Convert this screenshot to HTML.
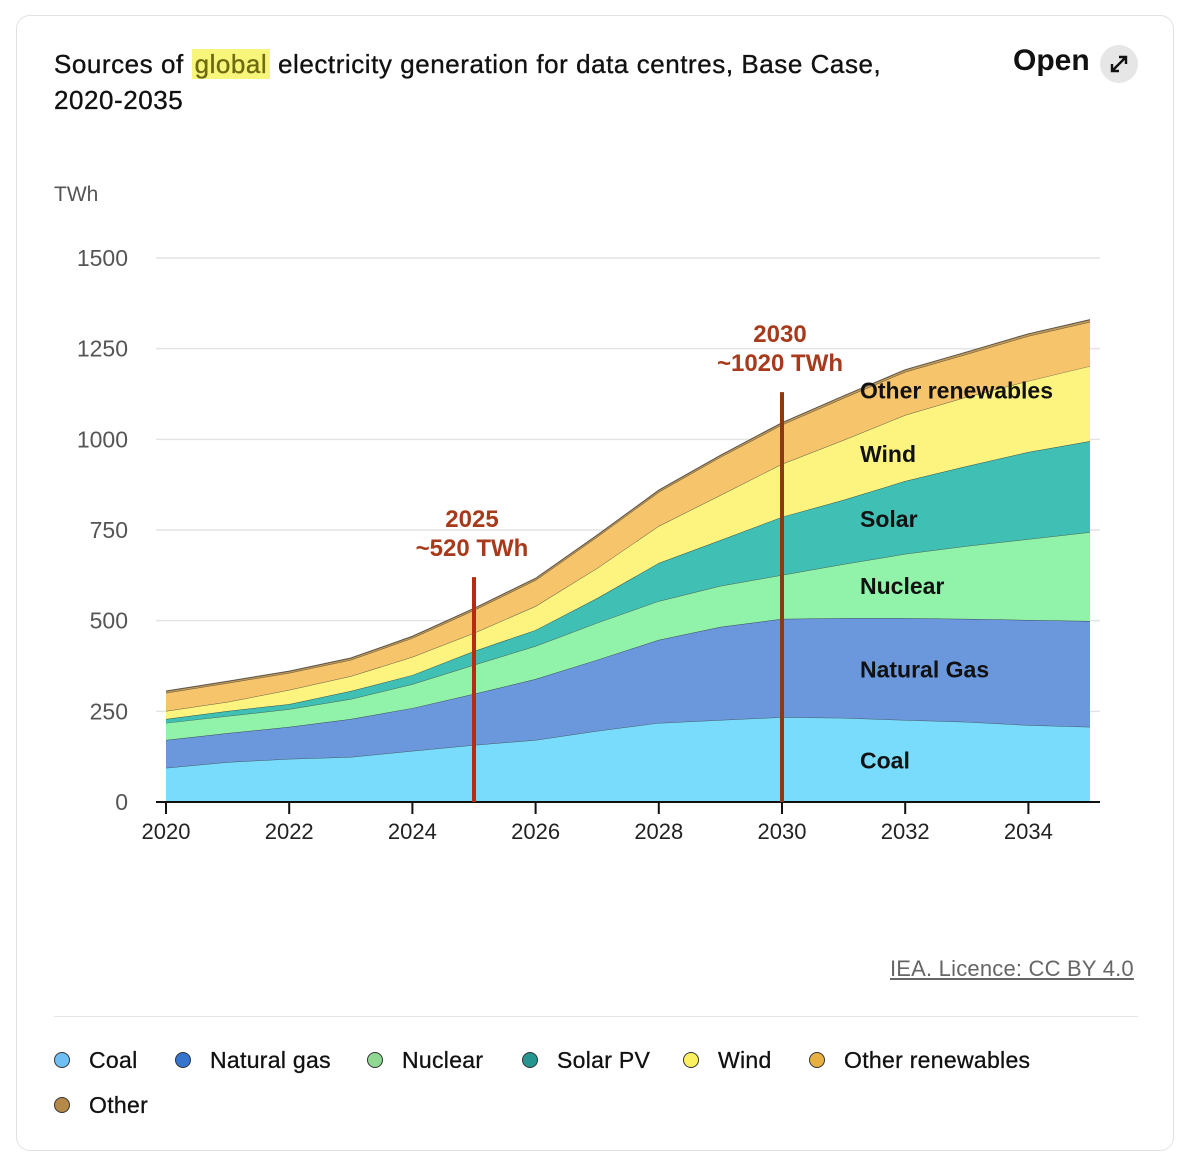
<!DOCTYPE html>
<html><head><meta charset="utf-8">
<style>
body{margin:0;background:#fff;font-family:"Liberation Sans",sans-serif;}
#card{position:absolute;left:16px;top:15px;width:1158px;height:1136px;border:1px solid #e2e2e2;border-radius:14px;box-sizing:border-box;}
.t{position:absolute;white-space:nowrap;}
</style></head><body>
<div id="card"></div>
<div class="t" style="left:54px;top:46px;font-size:26px;letter-spacing:0.55px;line-height:36px;color:#111;-webkit-text-stroke:0.35px #111;">Sources of <span style="background:#f7f57a;color:#6e6a10;-webkit-text-stroke:0.35px #6e6a10;padding:0 3px;">global</span> electricity generation for data centres, Base Case,<br>2020-2035</div>
<div class="t" style="left:1013px;top:44px;font-size:30px;font-weight:bold;color:#111;">Open</div>
<div style="position:absolute;left:1100px;top:45px;width:38px;height:38px;border-radius:50%;background:#e6e6e6;">
<svg width="38" height="38"><path d="M12 26 L26 12 M19 12 H26 V19 M12 19 V26 H19" stroke="#111" stroke-width="2.4" fill="none"/></svg></div>
<svg id="chart" width="1188" height="1163" style="position:absolute;left:0;top:0;"></svg>
<div class="t" style="left:890px;top:956px;font-size:22px;letter-spacing:0.2px;color:#666;text-decoration:underline;">IEA. Licence: CC BY 4.0</div>
<div style="position:absolute;left:54px;top:1016px;width:1084px;height:1px;background:#e5e5e5;"></div>
<div id="legend"></div>
<script>
const years=[2020,2021,2022,2023,2024,2025,2026,2027,2028,2029,2030,2031,2032,2033,2034,2035];
const coal=[94,110,119,124,141,157,171,196,218,226,234,232,226,221,212,207];
const gas=[77,80,88,105,118,141,168,196,229,257,271,275,281,284,290,292];
const nuclear=[47,47,49,55,66,80,91,102,107,113,121,149,177,201,223,245];
const solar=[11,14,14,22,25,38,44,68,105,126,160,177,201,220,240,251];
const wind=[22,25,39,41,50,50,66,83,102,124,146,165,182,191,196,207];
const otherRen=[50,52,47,45,52,63,72,86,94,105,108,116,119,118,124,122];
const other=[5,5,5,5,5,5,5,5,5,5,6,6,6,6,6,6];
const seriesNames=["Coal","Natural gas","Nuclear","Solar PV","Wind","Other renewables","Other"];
const seriesColors=["#7adcfc","#6b98dc","#90f3a9","#40c0b5","#fdf47f","#f6c46b","#c09a5a"];
const legendColors=["#6fbff5","#3575cf","#8fd892","#25968f","#fbf160","#e8b040","#b58a48"];
const yTicks=[0,250,500,750,1000,1250,1500];
const xTicks=[2020,2022,2024,2026,2028,2030,2032,2034];
const annotations=[{year:2025,l1:"2025",l2:"~520 TWh",top:620,color:"#b82a12"},{year:2030,l1:"2030",l2:"~1020 TWh",top:1130,color:"#8b3a14"}];
const areaLabels=[["Other renewables",1135],["Wind",960],["Solar",780],["Nuclear",595],["Natural Gas",365],["Coal",115]];
const NS="http://www.w3.org/2000/svg";
const svg=document.getElementById('chart');
const X=y=>166+(y-2020)*61.6;
const Y=v=>802-v*544/1500;
function el(t,a,p){const e=document.createElementNS(NS,t);for(const k in a)e.setAttribute(k,a[k]);(p||svg).appendChild(e);return e;}
yTicks.forEach(v=>{
 if(v>0){const g=el('line',{x1:156,x2:1100,y1:Y(v),y2:Y(v),stroke:'#e4e4e4','stroke-width':1.5});
 
 }
 const t=el('text',{x:128,y:Y(v)+8,'text-anchor':'end','font-size':23,fill:'#555'});t.textContent=v;
 
 
});
const ut=el('text',{x:54,y:201,'font-size':21,fill:'#555'});ut.textContent='TWh';


const series=[coal,gas,nuclear,solar,wind,otherRen,other];
let base=years.map(()=>0);
series.forEach((s,i)=>{
 const top=base.map((b,j)=>b+s[j]);
 let d='M'+years.map((y,j)=>X(y)+','+Y(top[j])).join(' L');
 for(let j=years.length-1;j>=0;j--)d+=' L'+X(years[j])+','+Y(base[j]);
 const p=el('path',{d:d+'Z',fill:seriesColors[i]});
 
 
 const ln=el('polyline',{points:years.map((y,j)=>X(y)+','+Y(top[j])).join(' '),fill:'none',stroke:'#222','stroke-width':1,'stroke-opacity':0.7});
 
 
 base=top;
});
const ax=el('line',{x1:156,x2:1100,y1:802,y2:802,stroke:'#111','stroke-width':2});


xTicks.forEach(y=>{
 const tk=el('line',{x1:X(y),x2:X(y),y1:802,y2:814,stroke:'#111','stroke-width':2});
 
 
 const t=el('text',{x:X(y),y:839,'text-anchor':'middle','font-size':22,fill:'#222'});t.textContent=y;
 
 
});
areaLabels.forEach(([n,v])=>{
 const t=el('text',{x:860,y:Y(v)+8,'font-size':23,'font-weight':'bold',fill:'#111'});t.textContent=n;
 
 
});
annotations.forEach(a=>{
 const l=el('line',{x1:X(a.year),x2:X(a.year),y1:Y(a.top),y2:802,stroke:a.color,'stroke-width':4});
 
 
 const t1=el('text',{x:X(a.year)-2,y:Y(a.top)-50,'text-anchor':'middle','font-size':24,'font-weight':'bold',fill:'#a83a1c'});t1.textContent=a.l1;
 
 
 const t2=el('text',{x:X(a.year)-2,y:Y(a.top)-21,'text-anchor':'middle','font-size':24,'font-weight':'bold',fill:'#a83a1c'});t2.textContent=a.l2;
 
 
});
const lg=document.getElementById('legend');
const pos=[[54,1046],[175,1046],[367,1046],[522,1046],[683,1046],[809,1046],[54,1091]];
seriesNames.forEach((n,i)=>{
 const d=document.createElement('div');
 
 
 d.style.cssText='position:absolute;left:'+pos[i][0]+'px;top:'+pos[i][1]+'px;font-size:23px;letter-spacing:0.3px;-webkit-text-stroke:0.3px #111;color:#111;white-space:nowrap;display:flex;align-items:center;height:28px;';
 d.innerHTML='<span style="display:inline-block;width:14px;height:14px;border-radius:50%;border:1px solid #333;background:'+legendColors[i]+';margin-right:19px;"></span>'+n;
 lg.appendChild(d);
});
</script>
</body></html>
